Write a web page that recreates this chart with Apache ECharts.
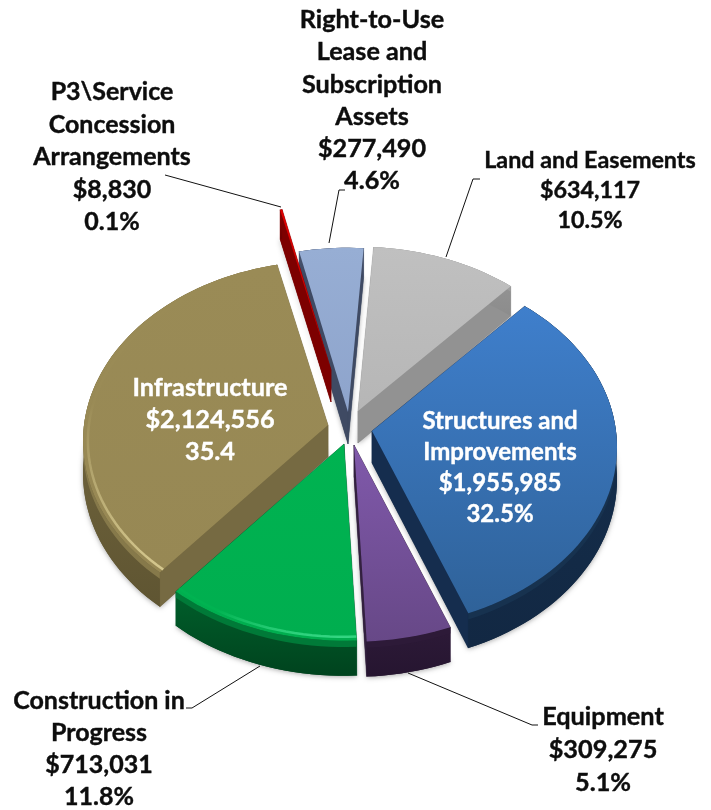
<!DOCTYPE html>
<html><head><meta charset="utf-8">
<style>html,body{margin:0;padding:0;background:#fff}#c{width:711px;height:810px}</style>
<script src="https://cdn.jsdelivr.net/npm/echarts@6/dist/echarts.min.js"></script>
</head><body><div id="c"></div>
<script>
// ---- data ----
const categories = ['Land and Easements','Structures and Improvements','Equipment','Construction in Progress','Infrastructure','P3\\Service Concession Arrangements','Right-to-Use Lease and Subscription Assets'];
const dollars = [634117,1955985,309275,713031,2124556,8830,277490];
const percentLabels = ['10.5%','32.5%','5.1%','11.8%','35.4','0.1%','4.6%'];
const nameLines = [['Land and Easements'],['Structures and','Improvements'],['Equipment'],['Construction in','Progress'],['Infrastructure'],['P3\\Service','Concession','Arrangements'],['Right-to-Use','Lease and','Subscription','Assets']];

// ---- layout and styling ----
const startAngle = 4, radiusX = 244, depthY = 179, persp = 0.09, wallBase = 32;
const apexes = [[358,411],[372,431],[354,445],[344,444],[328,425],[331,370],[348,412]];
const drawOrder = [6,0,5,4,1,2,3];
const styles = [
 {top:['#c0c0c0','#b6b6b6'],wall:['#9a9a9a','#8c8c8c'],side:'#929292',bevel:'#9f9f9f',hi:null},
 {top:['#3f7fcc','#2f6299'],wall:['#16304f','#122843'],side:'#152d4e',bevel:'#17324f',hi:null},
 {top:['#8059ab','#674887'],wall:['#2d1a38','#261530'],side:'#33203f',bevel:'#2d1a38',hi:null},
 {top:['#00b351','#00ae4f'],wall:['#005f2b','#00431e'],side:'#00552a',bevel:'#007a38',hi:'#38d886'},
 {top:['#9a8b56','#978854'],wall:['#7c6f44','#5f5532'],side:'#766a42',bevel:'#86794a',hi:'#d6c98f'},
 {top:['#e00000','#c00000'],wall:['#8c0000','#6c0000'],side:'#7d0000',bevel:'#8c0000',hi:null},
 {top:['#97aed4','#8ea4cc'],wall:['#4a5670','#3b4660'],side:'#3f4a63',bevel:'#4a5670',hi:null}
];
const labelFont = 'Lato, "Open Sans", sans-serif';
const labelBoxes = [
 {x:590,y:160,size:23.3,gap:30,color:'#0d0d0d'},
 {x:500,y:421,size:24,gap:31,color:'#fff'},
 {x:603,y:717,size:25.3,gap:33,color:'#0d0d0d'},
 {x:99,y:701,size:25,gap:32,color:'#0d0d0d'},
 {x:210,y:388,size:25.3,gap:32,color:'#fff'},
 {x:112,y:92,size:25,gap:32.5,color:'#0d0d0d'},
 {x:372,y:20,size:25.2,gap:32.2,color:'#0d0d0d'}
];
const leaders = [
 [[446,257],[473,179],[480,179]],
 null,
 [[408,673],[532,725],[538,725]],
 [[260,666],[192,708],[186,708]],
 null,
 [[165,175],[281,207]],
 [[329,243],[339,190],[345,190]]
];

const total = dollars.reduce((a,b)=>a+b,0);
let running = startAngle;
const arcs = dollars.map(v => { const a = [running, running + v/total*360]; running = a[1]; return a; });
const money = n => '$' + n.toLocaleString('en-US');

function project(apex, deg, shrink){
  const t = deg*Math.PI/180, z = -Math.cos(t), s = 1/(1-persp*z), f = shrink||1;
  return {x:apex[0]+f*radiusX*Math.sin(t)*s, y:apex[1]+f*depthY*z*s, s};
}
const grad = (c0,c1) => new echarts.graphic.LinearGradient(0,0,0,1,[{offset:0,color:c0},{offset:1,color:c1}]);

function renderSlice(params, api){
  const i = api.value(0), apex = apexes[i], st = styles[i], [a0,a1] = arcs[i];
  const n = Math.max(1, Math.ceil((a1-a0)/2));
  const arc = [], inner = [];
  for(let k=0;k<=n;k++){
    const a = a0+(a1-a0)*k/n;
    arc.push(project(apex, a));
    inner.push(project(apex, a, 0.98));
  }
  const wallAt = s => wallBase*s;
  const top = arc.map(p=>[p.x,p.y]);
  const apexPt = {x:apex[0],y:apex[1],s:1};
  const quad = (p,q,c)=>({type:'polygon',shape:{points:[[p.x,p.y],[q.x,q.y],[q.x,q.y+wallAt(q.s)],[p.x,p.y+wallAt(p.s)]]},style:{fill:c,stroke:c,lineWidth:0.5},silent:true});
  const children = [];
  children.push({type:'polygon',shape:{points:[[apexPt.x,apexPt.y+wallBase]].concat(arc.map(p=>[p.x,p.y+wallAt(p.s)]))},
    style:{fill:st.wall[1],shadowBlur:5,shadowColor:'rgba(0,0,0,0.35)',shadowOffsetY:1},silent:true});
  children.push(quad(apexPt,arc[0],st.side));
  children.push(quad(apexPt,arc[arc.length-1],st.side));
  const wallPts = top.concat(arc.slice().reverse().map(p=>[p.x,p.y+wallAt(p.s)]));
  children.push({type:'polygon',shape:{points:wallPts},style:{fill:grad(st.wall[0],st.wall[1])},silent:true});
  const bandPts = top.concat(arc.slice().reverse().map(p=>[p.x,p.y+wallAt(p.s)*0.18]));
  children.push({type:'polygon',shape:{points:bandPts},style:{fill:st.bevel},silent:true});
  children.push({type:'polygon',shape:{points:[[apexPt.x,apexPt.y]].concat(top)},style:{fill:grad(st.top[0],st.top[1])},silent:true});
  if(st.hi){
    children.push({type:'polyline',shape:{points:inner.map(p=>[p.x,p.y])},
      style:{stroke:new echarts.graphic.LinearGradient(0,0,0,1,[{offset:0,color:st.top[0]},{offset:0.45,color:st.top[0]},{offset:1,color:st.hi}]),lineWidth:2.5,fill:null},silent:true});
  }
  return {type:'group',children};
}

function renderLabel(params, api){
  const i = api.value(0), b = labelBoxes[i];
  const lines = nameLines[i].concat([money(dollars[i]), percentLabels[i]]);
  const children = lines.map((t,k)=>({type:'text',style:{text:t,x:b.x,y:b.y+k*b.gap,align:'center',verticalAlign:'middle',
     font:'bold '+b.size+'px '+labelFont,fill:b.color,stroke:b.color,lineWidth:0.4},silent:true}));
  if(leaders[i]) children.push({type:'polyline',shape:{points:leaders[i]},style:{stroke:'#111',lineWidth:1,fill:null},silent:true});
  return {type:'group',children};
}

const chart = echarts.init(document.getElementById('c'),null,{renderer:'canvas'});
chart.setOption({
  animation:false,
  backgroundColor:'#fff',
  series:[
    {type:'custom',coordinateSystem:'none',silent:true,z:2,data:drawOrder.map(i=>[i,dollars[i]]),renderItem:renderSlice,encode:{value:1}},
    {type:'custom',coordinateSystem:'none',silent:true,z:3,data:drawOrder.map(i=>[i,dollars[i]]),renderItem:renderLabel,encode:{value:1}}
  ]
});
</script></body></html>
